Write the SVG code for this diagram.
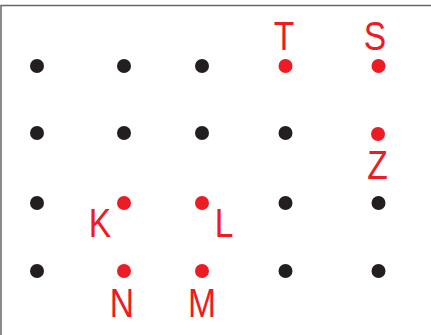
<svg xmlns="http://www.w3.org/2000/svg" width="431" height="335" viewBox="0 0 431 335">
<style>
.b{fill:#231f20}
.r{fill:#ed1c24}
.t{fill:#ed1c24;font-family:"Liberation Sans",Arial,sans-serif;font-size:41px;text-anchor:middle}
</style>
<rect width="431" height="335" fill="#fff"/>
<path d="M1,335 V5.5 H431" fill="none" stroke="#666" stroke-width="1.5"/>
<g id="row1">
<circle class="b" cx="37" cy="66" r="7"/>
<circle class="b" cx="124" cy="66" r="7"/>
<circle class="b" cx="202" cy="66" r="7"/>
</g>
<g id="T"><circle class="r" cx="285.5" cy="66" r="7"/><text class="t" transform="translate(284,50) scale(0.82,1)">T</text></g>
<g id="S"><circle class="r" cx="378.5" cy="66" r="7"/><text class="t" transform="translate(375,50) scale(0.82,1)">S</text></g>
<g id="row2">
<circle class="b" cx="37" cy="133" r="7"/>
<circle class="b" cx="124" cy="133" r="7"/>
<circle class="b" cx="202" cy="133" r="7"/>
<circle class="b" cx="285.5" cy="133" r="7"/>
</g>
<g id="Z"><circle class="r" cx="378" cy="134" r="7"/><text class="t" transform="translate(377.5,179) scale(0.82,1)">Z</text></g>
<g id="row3">
<circle class="b" cx="37" cy="203" r="7"/>
<circle class="b" cx="285.5" cy="203" r="7"/>
<circle class="b" cx="378.5" cy="203" r="7"/>
</g>
<g id="K"><circle class="r" cx="124" cy="203" r="7"/><text class="t" transform="translate(100,237) scale(0.82,1)">K</text></g>
<g id="L"><circle class="r" cx="202" cy="203" r="7"/><text class="t" transform="translate(224,237) scale(0.82,1)">L</text></g>
<g id="row4">
<circle class="b" cx="37" cy="271" r="7"/>
<circle class="b" cx="285.5" cy="271" r="7"/>
<circle class="b" cx="378.5" cy="271" r="7"/>
</g>
<g id="N"><circle class="r" cx="124" cy="271" r="7"/><text class="t" transform="translate(122,317) scale(0.82,1)">N</text></g>
<g id="M"><circle class="r" cx="202" cy="271" r="7"/><text class="t" transform="translate(202,317) scale(0.82,1)">M</text></g>
<g id="connectors"/>
</svg>
